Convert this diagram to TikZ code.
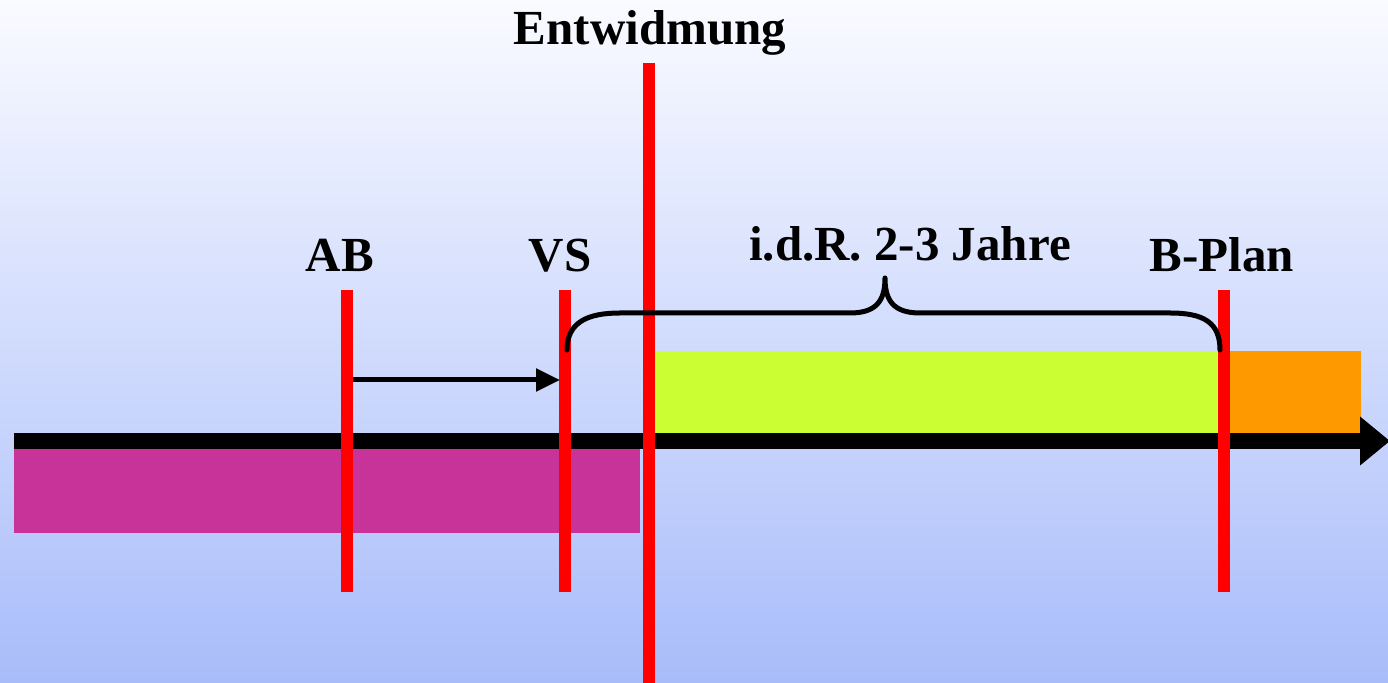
\documentclass[tikz,border=0pt]{standalone}
\usepackage{fontspec}
\setmainfont{Liberation Serif}
\usetikzlibrary{arrows.meta}
\definecolor{bgtop}{RGB}{250,251,255}
\definecolor{bgbot}{RGB}{168,188,250}
\definecolor{magentabar}{RGB}{200,51,153}
\definecolor{greenbar}{RGB}{204,255,51}
\definecolor{orangebar}{RGB}{255,153,0}
\tikzset{
  lbl/.style={font=\fontsize{24.5}{29}\selectfont\bfseries, anchor=base, inner sep=0pt},
  redline/.style={draw=red, line width=6pt},
}
\begin{document}
\begin{tikzpicture}[x=0.5pt, y=-0.5pt]
\shade[top color=bgtop, bottom color=bgbot] (0,0) rectangle (1388,683);
\useasboundingbox (0,0) rectangle (1388,683);
% bars
\fill[magentabar] (14,441) rectangle (640,533);
\fill[greenbar] (650,351) rectangle (1222,435);
\fill[orangebar] (1226,351) rectangle (1361,442);
% axis
\coordinate (axstart) at (14,441);
\coordinate (axend) at (1390,441);
\draw[line width=8pt, -{Triangle[length=15pt, width=23.5pt]}] (axstart) -- (axend);
% red lines
\coordinate (ABt) at (347,290); \coordinate (ABb) at (347,592);
\coordinate (VSt) at (565,290); \coordinate (VSb) at (565,592);
\coordinate (ENt) at (649,63); \coordinate (ENb) at (649,690);
\coordinate (BPt) at (1224,290); \coordinate (BPb) at (1224,592);
\draw[redline] (ABt) -- (ABb);
\draw[redline] (VSt) -- (VSb);
\draw[redline] (ENt) -- (ENb);
\draw[redline] (BPt) -- (BPb);
% small arrow
\coordinate (arS) at (353,380);
\coordinate (arE) at (560,380);
\draw[line width=2.5pt, -{Triangle[length=12pt, width=11pt]}] (arS) -- (arE);
% brace
\draw[line width=2.5pt, line cap=round, line join=round]
  (567,350) .. controls (567,322) and (588,313) .. (620,313)
  -- (850,313) .. controls (877,313) and (885,300) .. (885,278)
  .. controls (885,300) and (893,313) .. (920,313)
  -- (1170,313) .. controls (1203,313) and (1220,322) .. (1220,350);
% labels
\node[lbl] (ab) at (340,272) {AB};
\node[lbl] (vs) at (560,272) {VS};
\node[lbl] (jahre) at (910,261) {i.d.R. 2-3 Jahre};
\node[lbl] (bplan) at (1222,272) {B-Plan};
\node[lbl] (entw) at (650,45) {Entwidmung};
\end{tikzpicture}
\end{document}
